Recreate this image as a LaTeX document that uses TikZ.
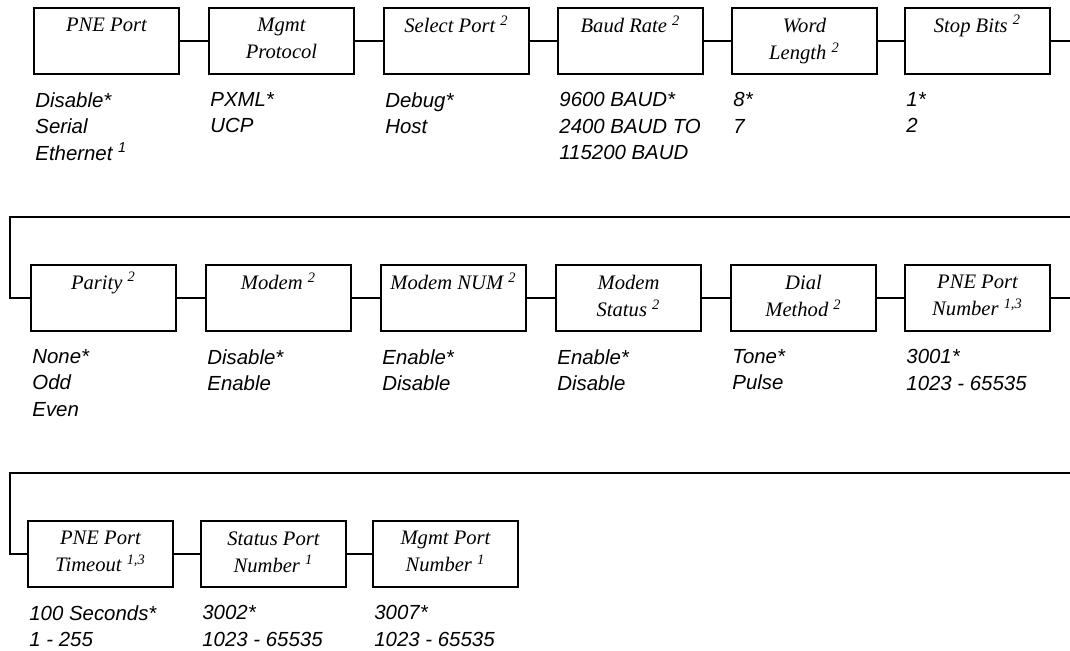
\documentclass[tikz,border=0pt]{standalone}
\usepackage{fontspec}
\setmainfont{Liberation Serif}
\setsansfont{Liberation Sans}
\usepackage{xcolor}
\usepackage{tikz}
\usetikzlibrary{positioning,calc}
\definecolor{ink}{HTML}{000000}
\tikzset{
  menubox/.style={draw=ink,line width=1pt,minimum width=72.5pt,minimum height=33pt,inner sep=0pt,anchor=north west},
  boxlbl/.style={font=\fontsize{10.3}{13.5}\selectfont\itshape,text=ink,align=center,anchor=north,inner sep=0pt},
  optlbl/.style={font=\sffamily\fontsize{10.2}{13.25}\selectfont\itshape,text=ink,align=left,anchor=north west,inner sep=0pt},
  wire/.style={draw=ink,line width=1pt},
}
\newcommand{\fnote}[1]{\smash{\textsuperscript{#1}}}
\newcommand{\menuitem}[5]{%
  \node[menubox] (#1) at (#2,#3) {};
  \node[boxlbl] (#1t) at ([yshift=-5.5pt]#1.north) {#4};
  \node[optlbl] (#1o) at ([shift={(1pt,-8.5pt)}]#1.south west) {#5};
}

\begin{document}
\begin{tikzpicture}[x=0.5pt,y=-0.5pt]
    \useasboundingbox (0,0) rectangle (1070,650);
    % row 1
    \menuitem{b1}{33}{7}{PNE Port}{Disable*\\Serial\\Ethernet \fnote{1}}
    \menuitem{b2}{208}{7}{Mgmt\\Protocol}{PXML*\\UCP}
    \menuitem{b3}{383}{7}{Select Port \fnote{2}}{Debug*\\Host}
    \menuitem{b4}{557}{7}{Baud Rate \fnote{2}}{9600 BAUD*\\2400 BAUD TO\\115200 BAUD}
    \menuitem{b5}{731}{7}{Word\\Length \fnote{2}}{8*\\7}
    \menuitem{b6}{904}{7}{Stop Bits \fnote{2}}{1*\\2}
    % row 2
    \menuitem{b7}{30}{264}{Parity \fnote{2}}{None*\\Odd\\Even}
    \menuitem{b8}{205}{264}{Modem \fnote{2}}{Disable*\\Enable}
    \menuitem{b9}{380}{264}{Modem NUM \fnote{2}}{Enable*\\Disable}
    \menuitem{b10}{555}{264}{Modem\\Status \fnote{2}}{Enable*\\Disable}
    \menuitem{b11}{730}{264}{Dial\\Method \fnote{2}}{Tone*\\Pulse}
    \menuitem{b12}{904}{264}{PNE Port\\Number \fnote{1,3}}{3001*\\1023 - 65535}
    % row 3
    \menuitem{b13}{27}{520}{PNE Port\\Timeout \fnote{1,3}}{100 Seconds*\\1 - 255}
    \menuitem{b14}{200}{520}{Status Port\\Number \fnote{1}}{3002*\\1023 - 65535}
    \menuitem{b15}{372}{520}{Mgmt Port\\Number \fnote{1}}{3007*\\1023 - 65535}
    % connectors
    \coordinate (redge) at (1070,0);
    \coordinate (t2r) at (1070,217);
    \coordinate (t2l) at (10,217);
    \coordinate (t3r) at (1070,473);
    \coordinate (t3l) at (10,473);
    \draw[wire] (b1) -- (b2) -- (b3) -- (b4) -- (b5) -- (b6);
    \draw[wire] (b6.east) -- (b6.east -| redge);
    \draw[wire] (t2r) -- (t2l) |- (b7.west);
    \draw[wire] (b7) -- (b8) -- (b9) -- (b10) -- (b11) -- (b12);
    \draw[wire] (b12.east) -- (b12.east -| redge);
    \draw[wire] (t3r) -- (t3l) |- (b13.west);
    \draw[wire] (b13) -- (b14) -- (b15);
  \end{tikzpicture}
\end{document}
